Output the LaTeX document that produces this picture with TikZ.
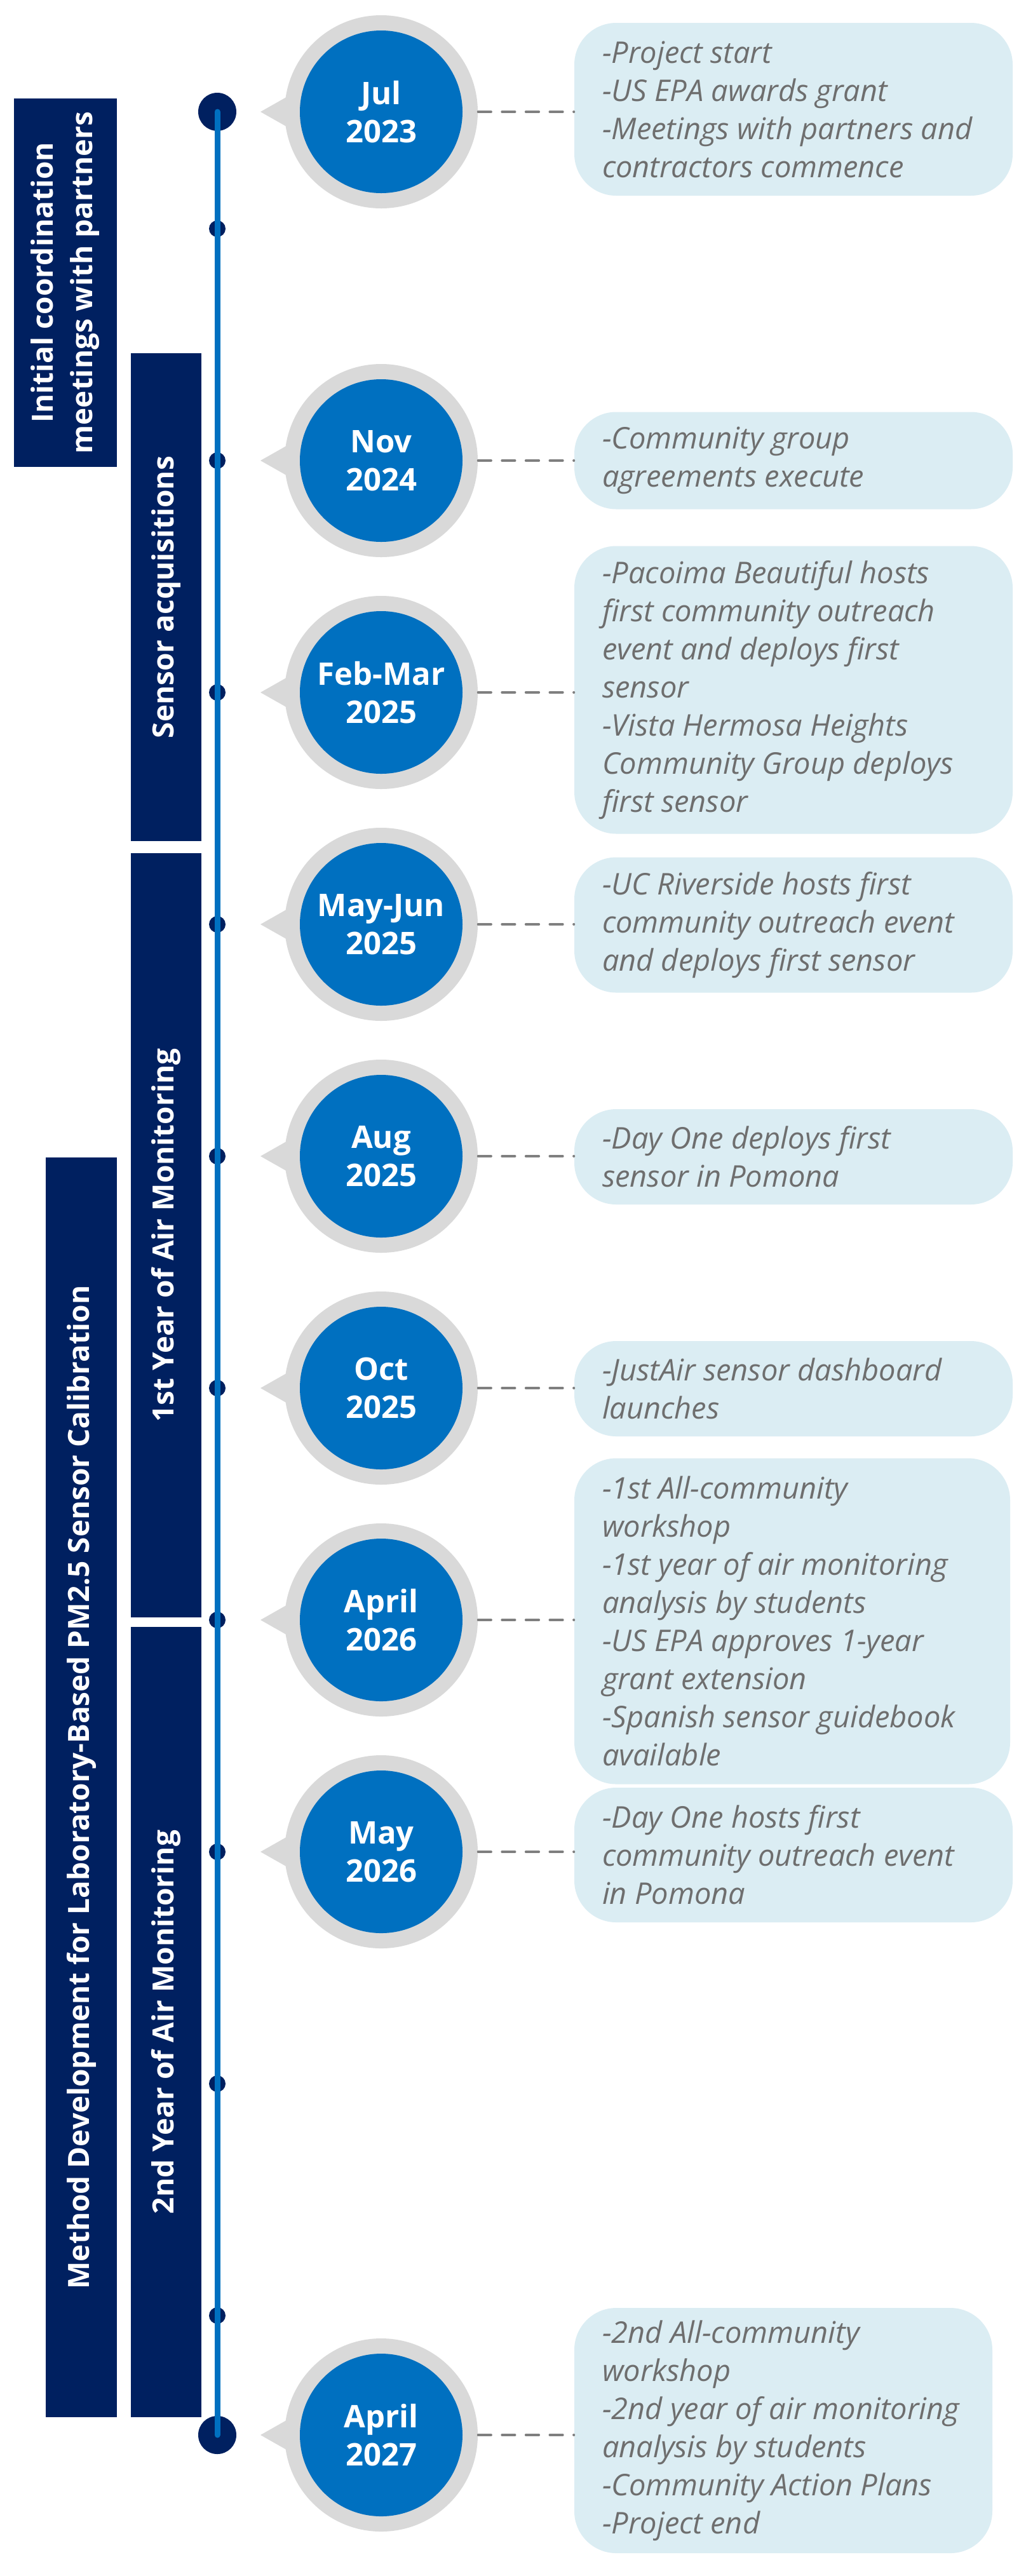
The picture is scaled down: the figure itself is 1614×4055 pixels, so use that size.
\documentclass[tikz,border=0pt]{standalone}
\usepackage{fontspec}
\setmainfont{Open Sans}
\definecolor{navy}{HTML}{002060}
\definecolor{tlblue}{HTML}{0070C0}
\definecolor{ringgray}{HTML}{D9D9D9}
\definecolor{boxblue}{HTML}{DBEDF3}
\definecolor{txtgray}{HTML}{6E6E6E}
\definecolor{dashgray}{HTML}{7F7F7F}
\newcommand{\tlbubble}[3]{%
  \fill[pointer] (410,#2) -- (470,#2-34) -- (470,#2+34) -- cycle;
  \node[ring] (r#1) at (600,#2) {};
  \node[disc] (d#1) at (600,#2) {#3};
}
\begin{document}
\begin{tikzpicture}[x=0.5pt,y=-0.5pt,
  bar/.style={fill=navy, inner sep=0pt, rotate=90, text=white, font=\bfseries\fontsize{23}{31}\selectfont, align=center},
  ring/.style={circle, fill=ringgray, minimum size=152pt, inner sep=0pt},
  disc/.style={circle, fill=tlblue, minimum size=128pt, inner sep=0pt, text=white, font=\bfseries\fontsize{24.5}{30}\selectfont, align=center},
  sdot/.style={circle, fill=navy, minimum size=13pt, inner sep=0pt},
  bdot/.style={circle, fill=navy, minimum size=30pt, inner sep=0pt},
  infobox/.style={rectangle, rounded corners=33pt, fill=boxblue, minimum width=345pt, inner sep=0pt},
  infotext/.style={anchor=west, align=left, text=txtgray, font=\itshape\fontsize{23.5}{30}\selectfont, inner sep=0pt},
  conn/.style={draw=dashgray, line width=1.65pt, line cap=round, dash pattern=on 10.4pt off 8.4pt},
  pointer/.style={fill=ringgray},
  tline/.style={draw=tlblue, line width=4.5pt, line cap=round}
]
\fill[white] (0,0) rectangle (1614,4055);
\useasboundingbox (0,0) rectangle (1614,4055);

% phase bars
\node[bar, minimum width=290pt, minimum height=81pt] (p1) at (103,445) {Initial coordination\\meetings with partners};
\node[bar, minimum width=384pt, minimum height=55.5pt] (p2) at (261.5,940) {Sensor acquisitions};
\node[bar, minimum width=601.5pt, minimum height=55.5pt] (p3) at (261.5,1944.5) {1st Year of Air Monitoring};
\node[bar, minimum width=622pt, minimum height=55.5pt] (p4) at (261.5,3183) {2nd Year of Air Monitoring};
\node[bar, minimum width=991.5pt, minimum height=56pt] (p5) at (128,2813.5) {Method Development for Laboratory-Based PM2.5 Sensor Calibration};

% timeline dots
\node[bdot] (bd1) at (342,176) {};
\node[bdot] (bd2) at (342,3833) {};
\node[sdot] (s1) at (342,360) {};
\node[sdot] (s2) at (342,725) {};
\node[sdot] (s3) at (342,1090) {};
\node[sdot] (s4) at (342,1455) {};
\node[sdot] (s5) at (342,1820) {};
\node[sdot] (s6) at (342,2185) {};
\node[sdot] (s7) at (342,2550) {};
\node[sdot] (s8) at (342,2915) {};
\node[sdot] (s9) at (342,3280) {};
\node[sdot] (s10) at (342,3645) {};
\draw[tline] (bd1.center) -- (bd2.center);

% bubbles
\tlbubble{1}{176}{Jul\\2023}
\tlbubble{2}{725}{Nov\\2024}
\tlbubble{3}{1090}{Feb-Mar\\2025}
\tlbubble{4}{1455}{May-Jun\\2025}
\tlbubble{5}{1820}{Aug\\2025}
\tlbubble{6}{2185}{Oct\\2025}
\tlbubble{7}{2550}{April\\2026}
\tlbubble{8}{2915}{May\\2026}
\tlbubble{9}{3833}{April\\2027}

% info boxes
\node[infobox, minimum height=136pt] (i1) at (1249,172) {};
\node[infobox, minimum height=76.5pt] (i2) at (1249,725) {};
\node[infobox, minimum height=226.5pt] (i3) at (1249,1086) {};
\node[infobox, minimum height=106.5pt] (i4) at (1249,1456) {};
\node[infobox, minimum height=75pt] (i5) at (1249,1821) {};
\node[infobox, minimum height=75pt] (i6) at (1249,2186) {};
\node[infobox, minimum height=256.5pt, minimum width=343pt] (i7) at (1247,2552) {};
\node[infobox, minimum height=106pt] (i8) at (1249,2920) {};
\node[infobox, minimum height=193pt, minimum width=329pt] (i9) at (1233,3826) {};

\node[infotext] (t1) at ([xshift=22pt]i1.west) {-Project start\\-US EPA awards grant\\-Meetings with partners and\\contractors commence};
\node[infotext] (t2) at ([xshift=22pt]i2.west) {-Community group\\agreements execute};
\node[infotext] (t3) at ([xshift=22pt]i3.west) {-Pacoima Beautiful hosts\\first community outreach\\event and deploys first\\sensor\\-Vista Hermosa Heights\\Community Group deploys\\first sensor};
\node[infotext] (t4) at ([xshift=22pt]i4.west) {-UC Riverside hosts first\\community outreach event\\and deploys first sensor};
\node[infotext] (t5) at ([xshift=22pt]i5.west) {-Day One deploys first\\sensor in Pomona};
\node[infotext] (t6) at ([xshift=22pt]i6.west) {-JustAir sensor dashboard\\launches};
\node[infotext] (t7) at ([xshift=22pt]i7.west) {-1st All-community\\workshop\\-1st year of air monitoring\\analysis by students\\-US EPA approves 1-year\\grant extension\\-Spanish sensor guidebook\\available};
\node[infotext] (t8) at ([xshift=22pt]i8.west) {-Day One hosts first\\community outreach event\\in Pomona};
\node[infotext] (t9) at ([xshift=22pt]i9.west) {-2nd All-community\\workshop\\-2nd year of air monitoring\\analysis by students\\-Community Action Plans\\-Project end};

% connectors
\foreach \k in {1,...,9}{
  \draw[conn] (r\k.east) -- (r\k.east -| i\k.west);
}
\end{tikzpicture}
\end{document}
